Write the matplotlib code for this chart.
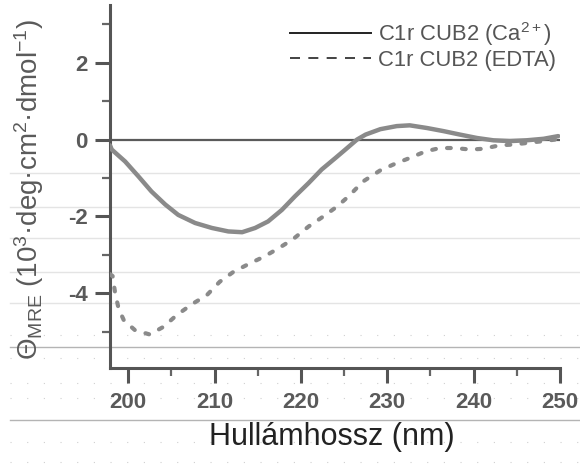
import matplotlib
matplotlib.use("Agg")
import matplotlib.pyplot as plt
from matplotlib.lines import Line2D
from matplotlib.ticker import MultipleLocator

plt.rcParams['font.family'] = ['Liberation Sans', 'DejaVu Sans']
plt.rcParams['mathtext.fontset'] = 'custom'
plt.rcParams['mathtext.rm'] = 'Liberation Sans'
plt.rcParams['mathtext.it'] = 'Liberation Sans:italic'
plt.rcParams['mathtext.bf'] = 'Liberation Sans:bold'
plt.rcParams['axes.unicode_minus'] = False

# CD spectrum, Ca2+-bound form (nm, 10^3 deg cm^2 dmol^-1)
wl_ca = [197.9, 198.1, 199.65, 201.2, 202.7, 204.3, 205.8, 207.75, 209.7, 211.6,
         213.2, 214.7, 216.2, 217.8, 219.3, 220.9, 222.4, 224.0, 225.1, 226.5,
         227.5, 229.2, 231.1, 232.6, 234.6, 236.5, 238.4, 240.4, 242.3,
         244.2, 246.1, 248.1, 249.8]
theta_ca = [-0.15, -0.26, -0.57, -0.96, -1.35, -1.69, -1.96, -2.17, -2.30, -2.39,
            -2.41, -2.30, -2.13, -1.83, -1.48, -1.13, -0.78, -0.48, -0.27, 0.0,
            0.13, 0.27, 0.35, 0.37, 0.30, 0.22, 0.13, 0.04, -0.02,
            -0.04, -0.02, 0.02, 0.09]

# CD spectrum, EDTA-treated form
wl_edta = [197.9, 198.2, 198.5, 198.9, 199.5, 200.8, 202.5, 204.1, 205.6, 207.4,
           209.1, 210.6, 212.2, 214.1, 215.7, 217.4, 219.1, 220.9, 222.6, 224.2,
           225.6, 227.2, 229.2, 231.0, 232.6, 234.4, 236.1, 237.8, 239.6, 241.1,
           243.0, 244.6, 246.5, 248.1, 249.8]
theta_edta = [-3.50, -3.55, -4.00, -4.40, -4.70, -4.96, -5.07, -4.87, -4.57, -4.28,
              -4.05, -3.70, -3.44, -3.22, -3.05, -2.83, -2.59, -2.26, -2.00, -1.74,
              -1.46, -1.09, -0.80, -0.62, -0.48, -0.31, -0.22, -0.22, -0.26, -0.24,
              -0.15, -0.13, -0.08, -0.04, 0.01]

x_ticks = [200, 210, 220, 230, 240, 250]
y_ticks = [-4, -2, 0, 2]
series_labels = ['C1r CUB2 (Ca$^{2+}$)', 'C1r CUB2 (EDTA)']

W, H = 580, 466
fig = plt.figure(figsize=(W / 100, H / 100), dpi=100)
fig.patch.set_facecolor('white')

# ruled-paper background lines
def hline(ypx, color, lw):
    fig.add_artist(Line2D([10 / W, 1.0], [1 - ypx / H, 1 - ypx / H],
                          color=color, lw=lw, zorder=0))

for y in [173, 207, 238, 272, 303]:
    hline(y, '#e4e4e4', 1.0)
for y in [347, 420]:
    hline(y, '#b4b4b4', 1.0)
for y in [335, 358, 383, 398, 442, 462]:
    fig.add_artist(Line2D([10 / W, 1.0], [1 - y / H, 1 - y / H], color='#d0d0d0',
                          lw=0.8, dashes=(1, 14), zorder=0))

ax = fig.add_axes([110 / W, 1 - 368.3 / H, 450 / W, 363.3 / H])
ax.set_facecolor('none')
ax.set_xlim(197.9, 250)
ax.set_ylim(-5.95, 3.5)

ax.axhline(0, color='#5a5a5a', lw=1.6, zorder=2)

ax.plot(wl_ca, theta_ca, color='#8a8a8a', lw=3.2, solid_capstyle='round',
        solid_joinstyle='round', zorder=3)
ax.plot(wl_edta, theta_edta, color='#8a8a8a', lw=3.0, dashes=(0.9, 2.7),
        dash_capstyle='round', zorder=3)

for s in ['top', 'right']:
    ax.spines[s].set_visible(False)
for s in ['left', 'bottom']:
    ax.spines[s].set_color('#555555')
    ax.spines[s].set_linewidth(2.2)

ax.set_xticks(x_ticks)
ax.set_yticks(y_ticks)
ax.xaxis.set_minor_locator(MultipleLocator(5))
ax.yaxis.set_minor_locator(MultipleLocator(1))
ax.tick_params(which='major', direction='out', length=11, width=2.2,
               color='#555555', labelsize=16, labelcolor='#5a5a5a')
ax.tick_params(which='minor', direction='out', length=5.5, width=1.6,
               color='#666666')
ax.tick_params(axis='y', which='major', pad=5)
ax.tick_params(axis='x', which='major', pad=6)
for lab in ax.get_xticklabels() + ax.get_yticklabels():
    lab.set_fontweight('bold')

ax.set_xlabel('Hullámhossz (nm)', fontsize=22, color='#222222')
ax.xaxis.set_label_coords((332 - 110) / 450, (368.3 - 422) / 363.3)
ax.set_ylabel(r'$\Theta_{\mathrm{MRE}}$ (10$^3$·deg·cm$^2$·dmol$^{-1}$)',
              fontsize=20, color='#5a5a5a')
ax.yaxis.set_label_coords((46 - 110) / 450, (368.3 - 189) / 363.3)

handles = [Line2D([], [], color='#222222', lw=1.4),
           Line2D([], [], color='#222222', lw=1.2, dashes=(6, 5))]
leg = ax.legend(handles, series_labels, loc='upper right',
                bbox_to_anchor=((556 - 110) / 450, (368.3 - 20) / 363.3),
                frameon=False, fontsize=15.8, handlelength=3.7, handletextpad=0.3,
                labelspacing=0.1, borderpad=0, borderaxespad=0)
for t in leg.get_texts():
    t.set_color('#555555')

fig.savefig('out.png', dpi=100)
